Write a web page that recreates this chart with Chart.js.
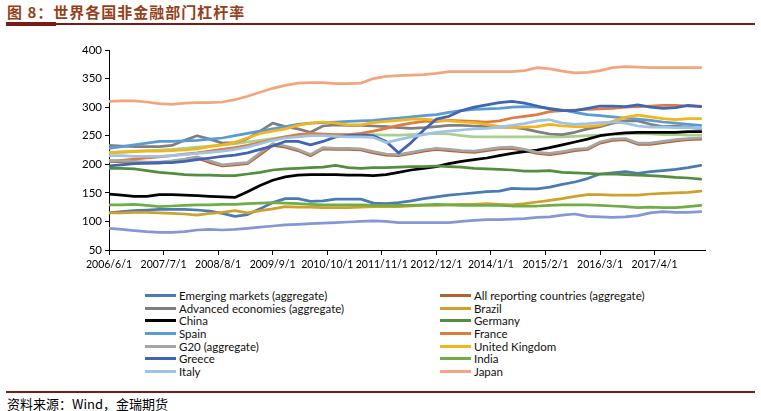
<!DOCTYPE html>
<html>
<head>
<meta charset="utf-8">
<script src="https://cdn.jsdelivr.net/npm/chart.js@4"></script>
<style>
  body { margin: 0; width: 761px; height: 411px; background: #fff; position: relative; overflow: hidden; font-family: Lato, "Noto Sans", sans-serif; }
  #title { position: absolute; left: 7px; top: 1px; font: bold 15px "Noto Sans CJK SC"; color: #963F1A; letter-spacing: 1px; white-space: nowrap; }
  .rule { position: absolute; left: 6px; width: 749px; background: #7B1C14; }
  #chartBox { position: absolute; left: 0; top: 40px; width: 761px; height: 240px; }
  #legend { position: absolute; left: 145px; top: 289px; display: grid; grid-template-columns: 295px 295px; grid-auto-rows: 12.7px; }
  .item { display: flex; align-items: center; font-size: 11.5px; color: #111; white-space: nowrap; }
  .item span.swatch { display: inline-block; width: 31px; height: 3px; margin-right: 3px; }
  #source { position: absolute; left: 7px; top: 394px; font: 13px "Noto Sans CJK SC"; color: #000; white-space: nowrap; }
</style>
</head>
<body>
<div id="title">图 8：世界各国非金融部门杠杆率</div>
<div class="rule" style="top:23px;height:2px"></div>
<div class="rule" style="top:22px;height:4px;width:50px"></div>
<div id="chartBox"><canvas id="myChart"></canvas></div>
<div id="legend"></div>
<div class="rule" style="top:391px;height:2px"></div>
<div id="source">资料来源：Wind，金瑞期货</div>
<script>
// quarterly observations
var dates = ['2006/6/1','2006/9/1','2006/12/1',
  '2007/3/1','2007/6/1','2007/9/1','2007/12/1',
  '2008/3/1','2008/6/1','2008/9/1','2008/12/1',
  '2009/3/1','2009/6/1','2009/9/1','2009/12/1',
  '2010/3/1','2010/6/1','2010/9/1','2010/12/1',
  '2011/3/1','2011/6/1','2011/9/1','2011/12/1',
  '2012/3/1','2012/6/1','2012/9/1','2012/12/1',
  '2013/3/1','2013/6/1','2013/9/1','2013/12/1',
  '2014/3/1','2014/6/1','2014/9/1','2014/12/1',
  '2015/3/1','2015/6/1','2015/9/1','2015/12/1',
  '2016/3/1','2016/6/1','2016/9/1','2016/12/1',
  '2017/3/1','2017/6/1','2017/9/1','2017/12/1',
  '2018/3/1'];

var tickLabels = ['2006/6/1','2007/7/1','2008/8/1','2009/9/1','2010/10/1','2011/11/1','2012/12/1','2014/1/1','2015/2/1','2016/3/1','2017/4/1'];

var emerging = [115,117,119,120,121,121,121,120,118,114,109,112,122,133,140,140,135,136,139,139,139,132,131,133,136,140,143,146,148,150,152,153,158,157,157,160,165,169,175,183,185,187,184,187,189,191,194,198];
var allReporting = [205,204,203,202,202,204,207,211,203,197,199,201,217,233,230,224,215,227,226,226,225,220,216,215,219,223,226,224,222,221,224,227,228,224,219,217,220,224,226,237,242,243,235,235,238,241,243,244];
var advanced = [233,232,231,231,231,233,242,250,244,237,238,245,258,272,266,262,256,267,269,268,268,267,266,264,263,264,266,268,268,267,266,265,265,262,257,253,252,256,262,266,272,276,276,270,266,267,265,262];
var brazil = [115,115,116,116,115,114,113,111,114,116,119,115,119,122,126,125,125,124,124,124,125,126,126,126,127,128,128,129,130,130,131,130,129,131,134,137,140,144,147,147,146,146,146,148,149,150,151,153];
var china = [148,146,144,144,147,147,146,145,144,143,142,152,163,172,178,181,182,182,182,181,181,180,182,186,190,193,196,201,205,208,211,215,219,222,225,229,234,239,244,250,253,255,256,256,256,256,257,257];
var germany = [193,193,192,189,186,184,182,181,181,180,180,183,186,190,192,193,194,195,198,194,193,194,194,195,196,196,197,196,195,193,192,191,190,188,188,189,186,185,184,183,183,182,181,180,179,177,176,174];
var spain = [228,231,234,237,240,240,241,242,244,246,250,254,258,262,266,270,272,273,274,275,276,277,279,281,283,285,287,291,294,296,297,298,300,301,300,298,295,291,287,285,283,281,279,277,274,272,270,268];
var france = [205,207,209,211,213,215,218,220,223,226,229,233,238,243,248,252,254,253,252,252,254,258,263,268,272,275,275,277,276,275,274,276,281,284,287,292,294,295,296,297,298,300,301,302,303,303,302,302];
var g20 = [207,206,205,204,204,206,209,213,206,199,201,203,220,236,232,226,217,229,228,228,227,222,218,217,221,225,228,226,224,223,226,229,230,226,221,219,222,226,228,239,244,245,237,237,240,243,245,246];
var uk = [220,221,222,223,223,224,225,227,231,234,238,246,254,258,262,268,272,274,272,269,269,273,275,277,279,279,277,276,274,273,270,266,264,265,266,270,267,266,266,268,275,282,286,283,280,278,280,280];
var greece = [197,199,201,202,203,203,205,208,211,214,216,220,226,232,240,240,234,240,248,250,251,250,240,220,238,260,279,284,294,300,304,308,310,307,302,297,294,294,298,302,302,301,304,300,298,299,303,301];
var india = [129,129,130,128,126,127,128,129,129,130,130,131,132,133,132,131,130,129,129,129,129,128,128,128,128,129,130,129,128,128,128,128,127,127,127,128,129,129,129,128,127,126,124,125,124,124,126,128];
var italy = [215,215,214,214,214,215,217,219,221,223,226,230,236,242,246,248,250,250,249,248,248,247,238,243,248,252,256,258,260,262,263,265,268,271,276,278,272,270,271,273,274,272,267,265,265,264,264,263];
var japan = [310,311,311,309,306,305,307,308,308,309,313,319,326,333,338,342,343,343,341,341,342,350,354,355,356,357,359,362,362,362,362,362,362,364,369,367,363,360,361,364,369,371,370,369,369,369,369,369];
// two more lines are drawn in the source chart but have no legend entry
var unlabeledGreen = [221,222,223,224,225,226,228,230,232,234,236,239,242,245,248,250,251,251,251,252,252,252,251,251,252,253,254,253,250,248,248,248,248,248,248,248,248,249,250,251,252,253,254,253,252,252,251,251];
var unlabeledBlue = [88,86,84,82,81,81,82,85,86,85,86,88,90,92,94,95,96,97,98,99,100,101,100,98,98,98,98,98,100,102,103,103,104,105,107,108,111,113,109,108,107,108,110,115,117,116,116,117];

var seriesNames = ['Emerging markets (aggregate)','All reporting countries (aggregate)','Advanced economies (aggregate)','Brazil','China','Germany','Spain','France','G20 (aggregate)','United Kingdom','Greece','India','Italy','Japan'];
var seriesData = [emerging, allReporting, advanced, brazil, china, germany, spain, france, g20, uk, greece, india, italy, japan];
var seriesColors = ['#4B7BB5','#B8632F','#7F7F7F','#CDA12B','#000000','#538E3C','#5B9BD5','#E07B3F','#A5A5A5','#F2B51C','#4065B5','#70AD47','#9DC3E6','#F4A57D'];

function monthIndex(s) {
    var p = s.split('/');
    return (parseInt(p[0]) - 2006) * 12 + parseInt(p[1]) - 6;
}

var months = dates.map(monthIndex);
var tickMonths = tickLabels.map(monthIndex);

function toPoints(arr) {
    return arr.map(function (v, i) { return { x: months[i], y: v }; });
}

var datasets = [];

// extra lines go first so they sit under the named ones
datasets.push({ label: 'unlabeled 1', data: toPoints(unlabeledBlue), borderColor: '#8497D6', order: 1 });
datasets.push({ label: 'unlabeled 2', data: toPoints(unlabeledGreen), borderColor: '#A9D18E', order: 0 });

for (var i = 0; i != seriesNames.length; i++) {
    datasets.push({
        label: seriesNames[i],
        data: toPoints(seriesData[i]),
        borderColor: seriesColors[i],
        order: -i - 1
    });
}

var config = {
    type: 'line',
    data: { datasets: datasets },
    options: {
        responsive: true,
        maintainAspectRatio: false,
        animation: false,
        layout: { padding: { top: 10, right: 56, left: 0, bottom: 0 } },
        elements: {
            point: { radius: 0 },
            line: { borderWidth: 2.75, tension: 0, borderCapStyle: 'round', borderJoinStyle: 'round' }
        },
        plugins: {
            legend: { display: false },
            tooltip: { enabled: false }
        },
        scales: {
            x: {
                type: 'linear',
                min: 0,
                max: 142,
                afterBuildTicks: function (axis) {
                    axis.ticks = tickMonths.map(function (m) { return { value: m }; });
                },
                afterFit: function (axis) { axis.height = 30; },
                ticks: {
                    autoSkip: false,
                    maxRotation: 0,
                    padding: 3,
                    color: '#000',
                    font: { family: 'Lato', size: 10.5 },
                    callback: function (v) {
                        var k = tickMonths.indexOf(v);
                        return k >= 0 ? tickLabels[k] : '';
                    }
                },
                grid: { display: true, drawOnChartArea: false, drawTicks: true, tickLength: 5, color: '#000' },
                border: { display: true, color: '#000', width: 1 }
            },
            y: {
                min: 50,
                max: 400,
                afterFit: function (axis) { axis.width = 109; },
                ticks: {
                    stepSize: 50,
                    padding: 3,
                    color: '#000',
                    font: { family: 'Lato', size: 11.5 }
                },
                grid: { display: true, drawOnChartArea: false, drawTicks: true, tickLength: 4, color: '#000' },
                border: { display: true, color: '#000', width: 1 }
            }
        }
    }
};

var chart = new Chart(document.getElementById('myChart'), config);

// legend laid out like the source: two columns, series order row by row
var legend = document.getElementById('legend');
for (var j = 0; j != seriesNames.length; j++) {
    var div = document.createElement('div');
    div.className = 'item';
    div.innerHTML = '<span class="swatch" style="background:' + seriesColors[j] + '"></span>' + seriesNames[j];
    legend.appendChild(div);
}
</script>
</body>
</html>
